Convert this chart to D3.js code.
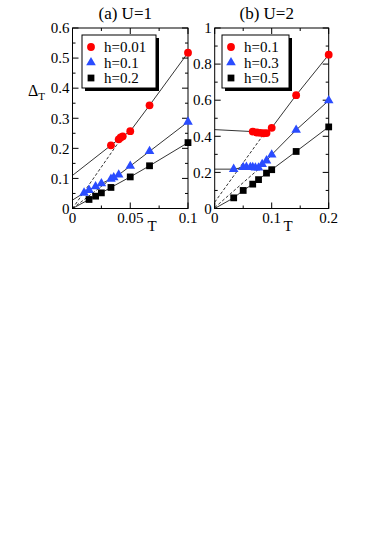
<!DOCTYPE html>
<meta charset="utf-8">
<script src="https://d3js.org/d3.v7.min.js"></script>
<style>
  body { margin: 0; background: #fff; }
  text { font-family: "Liberation Serif", "Times New Roman", serif; }
</style>
<svg id="chart" width="382" height="540"></svg>
<script>

// ---- panel (a) U=1 ----
const aRedT   = [0.0333, 0.04, 0.0417, 0.0435, 0.05, 0.0667, 0.1]
const aRedD   = [0.21, 0.23, 0.236, 0.24, 0.257, 0.343, 0.518]
const aBlueT  = [0.01, 0.0143, 0.02, 0.025, 0.0333, 0.0357, 0.04, 0.05, 0.0667, 0.1]
const aBlueD  = [0.052, 0.061, 0.073, 0.083, 0.098, 0.103, 0.112, 0.141, 0.19, 0.288]
const aBlackT = [0.0143, 0.02, 0.025, 0.0333, 0.05, 0.0667, 0.1]
const aBlackD = [0.03, 0.041, 0.052, 0.07, 0.105, 0.142, 0.219]
const aIntercepts = [0.11, 0.028, 0]          // solid lines continued to T=0
const aDashed = [[[0, 0], [0.0435, 0.24]], [[0, 0], [0.0357, 0.105]]]
const aLabels = ["h=0.01", "h=0.1", "h=0.2"]
const aXTicks = [0, 0.05, 0.1], aXMinor = [0.025, 0.075]
const aYTicks = [0, 0.1, 0.2, 0.3, 0.4, 0.5, 0.6], aYMinor = [0.05, 0.15, 0.25, 0.35, 0.45, 0.55]

// ---- panel (b) U=2 ----
const bRedT   = [0.0667, 0.0741, 0.08, 0.0857, 0.0909, 0.1, 0.1429, 0.2]
const bRedD   = [0.426, 0.421, 0.419, 0.417, 0.418, 0.447, 0.628, 0.852]
const bBlueT  = [0.0333, 0.05, 0.0556, 0.0625, 0.0667, 0.0714, 0.0769, 0.0833, 0.0909, 0.1, 0.1429, 0.2]
const bBlueD  = [0.218, 0.228, 0.229, 0.228, 0.228, 0.226, 0.226, 0.245, 0.265, 0.298, 0.435, 0.598]
const bBlackT = [0.0333, 0.05, 0.0667, 0.0769, 0.0909, 0.1, 0.1429, 0.2]
const bBlackD = [0.059, 0.1, 0.135, 0.16, 0.196, 0.215, 0.316, 0.452]
const bIntercepts = [0.437, 0.218, 0]
const bDashed = [[[0, 0.035], [0.088, 0.42]], [[0, 0.005], [0.083, 0.235]]]
const bLabels = ["h=0.1", "h=0.3", "h=0.5"]
const bXTicks = [0, 0.1, 0.2], bXMinor = [0.05, 0.15]
const bYTicks = [0, 0.2, 0.4, 0.6, 0.8, 1], bYMinor = [0.1, 0.3, 0.5, 0.7, 0.9]

const colors = ["#ff0000", "#2a4cff", "#000000"]
const symbols = [d3.symbolCircle, d3.symbolTriangle, d3.symbolSquare]
const symSize = [48, 40, 46]

const svg = d3.select("#chart")

function panel(o) {
  const x = d3.scaleLinear().domain(o.xDomain).range([o.left, o.right])
  const y = d3.scaleLinear().domain(o.yDomain).range([o.bottom, o.top])
  const g = svg.append("g")

  // frame
  g.append("rect")
    .attr("x", o.left).attr("y", o.top)
    .attr("width", o.right - o.left).attr("height", o.bottom - o.top)
    .attr("fill", "none").attr("stroke", "#000").attr("stroke-width", 1)

  // inward ticks on all four sides
  const tk = (vals, len, horiz) => {
    vals.forEach(v => {
      if (horiz) {
        const px = x(v)
        g.append("line").attr("x1", px).attr("x2", px).attr("y1", o.bottom).attr("y2", o.bottom - len).attr("stroke", "#000")
        g.append("line").attr("x1", px).attr("x2", px).attr("y1", o.top).attr("y2", o.top + len).attr("stroke", "#000")
      } else {
        const py = y(v)
        g.append("line").attr("y1", py).attr("y2", py).attr("x1", o.left).attr("x2", o.left + len).attr("stroke", "#000")
        g.append("line").attr("y1", py).attr("y2", py).attr("x1", o.right).attr("x2", o.right - len).attr("stroke", "#000")
      }
    })
  }
  tk(o.xTicks, 6, true); tk(o.xMinor, 3, true)
  tk(o.yTicks, 6, false); tk(o.yMinor, 3, false)

  g.selectAll(".xl").data(o.xTicks).join("text")
    .attr("x", d => x(d)).attr("y", o.bottom + 14)
    .attr("text-anchor", "middle").style("font-size", "15px")
    .text(d => d3.format("~g")(d))
  g.selectAll(".yl").data(o.yTicks).join("text")
    .attr("x", o.left - 3).attr("y", d => y(d)).attr("dy", "0.35em")
    .attr("text-anchor", "end").style("font-size", "15px")
    .text(d => d3.format("~g")(d))

  // title and T label
  g.append("text").attr("x", (o.left + o.right) / 2 - 5).attr("y", 19)
    .attr("text-anchor", "middle").style("font-size", "17px").text(o.title)
  g.append("text").attr("x", o.tLabelX).attr("y", 231)
    .attr("text-anchor", "middle").style("font-size", "15px").text("T")

  const line = d3.line().x(d => x(d[0])).y(d => y(d[1]))

  // dashed guide lines
  o.dashed.forEach(seg => {
    g.append("path").attr("d", line(seg))
      .attr("fill", "none").attr("stroke", "#000").attr("stroke-width", 0.8)
      .attr("stroke-dasharray", "3,2")
  })

  // solid lines and markers
  o.series.forEach((s, i) => {
    const pts = s.t.map((t, j) => [t, s.d[j]])
    g.append("path").attr("d", line([[0, o.intercepts[i]]].concat(pts)))
      .attr("fill", "none").attr("stroke", "#000").attr("stroke-width", 0.8)
    g.selectAll(".m" + i).data(pts).join("path")
      .attr("transform", d => `translate(${x(d[0])},${y(d[1])})`)
      .attr("d", d3.symbol().type(symbols[i]).size(symSize[i]))
      .attr("fill", colors[i])
  })

  // legend with drop shadow
  const L = o.legend
  g.append("rect").attr("x", L.x + 3).attr("y", L.y + 3).attr("width", L.w).attr("height", L.h).attr("fill", "#000")
  g.append("rect").attr("x", L.x).attr("y", L.y).attr("width", L.w).attr("height", L.h)
    .attr("fill", "#fff").attr("stroke", "#000").attr("stroke-width", 1)
  o.labels.forEach((lab, i) => {
    const cy = L.y + 12 + i * 15.5
    g.append("path").attr("transform", `translate(${L.x + 9},${cy})`)
      .attr("d", d3.symbol().type(symbols[i]).size(symSize[i])).attr("fill", colors[i])
    g.append("text").attr("x", L.x + 22).attr("y", cy).attr("dy", "0.35em")
      .style("font-size", "15px").text(lab)
  })
}

panel({
  left: 72.5, right: 188, top: 28, bottom: 208.5,
  xDomain: [0, 0.1], yDomain: [0, 0.6],
  xTicks: aXTicks, xMinor: aXMinor, yTicks: aYTicks, yMinor: aYMinor,
  title: "(a) U=1", tLabelX: 152,
  series: [{t: aRedT, d: aRedD}, {t: aBlueT, d: aBlueD}, {t: aBlackT, d: aBlackD}],
  intercepts: aIntercepts, dashed: aDashed, labels: aLabels,
  legend: {x: 82, y: 35, w: 74, h: 53}
})

panel({
  left: 214.7, right: 328.7, top: 28, bottom: 208.5,
  xDomain: [0, 0.2], yDomain: [0, 1],
  xTicks: bXTicks, xMinor: bXMinor, yTicks: bYTicks, yMinor: bYMinor,
  title: "(b) U=2", tLabelX: 288,
  series: [{t: bRedT, d: bRedD}, {t: bBlueT, d: bBlueD}, {t: bBlackT, d: bBlackD}],
  intercepts: bIntercepts, dashed: bDashed, labels: bLabels,
  legend: {x: 222, y: 35, w: 67, h: 53}
})

// Delta_T axis label
svg.append("text").attr("x", 28).attr("y", 96).style("font-size", "16px")
  .text("Δ")
  .append("tspan").attr("dy", 4).style("font-size", "11px").text("T")

</script>
